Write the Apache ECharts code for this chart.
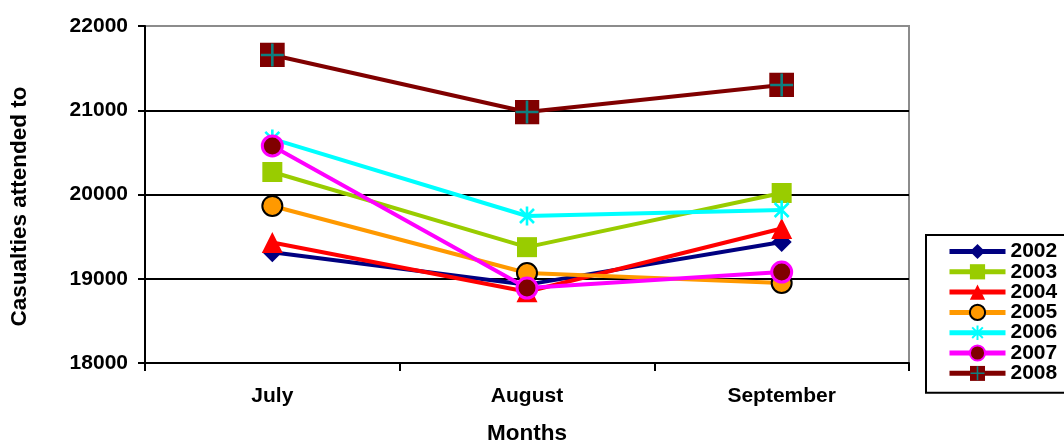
<!DOCTYPE html>
<html>
<head>
<meta charset="utf-8">
<script src="https://cdn.jsdelivr.net/npm/echarts@6/dist/echarts.min.js"></script>
<style>
  html, body { margin: 0; padding: 0; background: #fff; }
  #chart { width: 1064px; height: 442px; }
</style>
</head>
<body>
<div id="chart"></div>
<script>
// Monthly casualties attended to, by year
const months = ['July', 'August', 'September'];
const years = ['2002', '2003', '2004', '2005', '2006', '2007', '2008'];
const v2002 = [19315, 18930, 19436];
const v2003 = [20267, 19375, 20018];
const v2004 = [19430, 18845, 19596];
const v2005 = [19864, 19068, 18950];
const v2006 = [20660, 19745, 19816];
const v2007 = [20576, 18890, 19080];
const v2008 = [21656, 20979, 21300];
const yTicks = [18000, 19000, 20000, 21000, 22000];

const svgSymbol = svg => 'image://data:image/svg+xml;charset=utf-8,' + encodeURIComponent(svg);

// six-armed asterisk marker
const asterisk = svgSymbol(
  "<svg xmlns='http://www.w3.org/2000/svg' width='20' height='20' viewBox='0 0 20 20'>" +
  "<path d='M10 0.5V19.5M3 3L17 17M3 17L17 3' stroke='#00FFFF' stroke-width='2.6' fill='none'/></svg>");
// maroon square with a teal cross
const crossSquare = svgSymbol(
  "<svg xmlns='http://www.w3.org/2000/svg' width='25' height='25' viewBox='0 0 25 25'>" +
  "<rect width='25' height='25' fill='#800000'/>" +
  "<path d='M12.5 1V24M1 12.5H24' stroke='#0E7F7F' stroke-width='2.6' fill='none'/></svg>");

const font = 'Liberation Sans, Arial, sans-serif';

function line(name, data, color, symbol, size, itemStyle) {
  return {
    name, type: 'line', data,
    symbol, symbolSize: size,
    showAllSymbol: true,
    lineStyle: { color, width: 4 },
    itemStyle: Object.assign({ color, opacity: 1 }, itemStyle || {}),
    emphasis: { disabled: true },
    animation: false
  };
}

const series = [
  line(years[0], v2002, '#000080', 'diamond', 20),
  line(years[1], v2003, '#99CC00', 'rect', 20),
  line(years[2], v2004, '#FF0000', 'triangle', 21),
  line(years[3], v2005, '#FF9900', 'circle', 20, { borderColor: '#000', borderWidth: 2 }),
  line(years[4], v2006, '#00FFFF', asterisk, 20),
  line(years[5], v2007, '#FF00FF', 'circle', 20, { color: '#800000', borderColor: '#FF00FF', borderWidth: 3 }),
  line(years[6], v2008, '#800000', crossSquare, 25)
];

const chart = echarts.init(document.getElementById('chart'), null, { renderer: 'canvas' });
chart.setOption({
  animation: false,
  backgroundColor: '#fff',
  grid: {
    left: 145, right: 155, top: 26, bottom: 79,
    outerBoundsMode: 'none',
    containLabel: false,
    show: true, borderColor: '#8c8c8c', borderWidth: 2, backgroundColor: 'transparent'
  },
  legend: {
    orient: 'vertical',
    left: 926, top: 235,
    padding: [6, 20, 9, 21],
    itemWidth: 56, itemHeight: 19, itemGap: -0.7,
    borderColor: '#000', borderWidth: 2,
    lineStyle: { width: 5 },
    textStyle: { fontFamily: font, fontWeight: 'bold', fontSize: 21, color: '#000' },
    data: years
  },
  xAxis: {
    type: 'category',
    data: months,
    boundaryGap: true,
    name: 'Months',
    nameLocation: 'middle',
    nameGap: 59,
    nameTextStyle: { fontFamily: font, fontWeight: 'bold', fontSize: 22.5, color: '#000' },
    axisLine: { lineStyle: { color: '#000', width: 2 } },
    axisTick: { show: true, length: 8, lineStyle: { color: '#000', width: 2 } },
    axisLabel: { fontFamily: font, fontWeight: 'bold', fontSize: 21, color: '#000', margin: 23 },
    splitLine: { show: false }
  },
  yAxis: {
    type: 'value',
    min: yTicks[0], max: yTicks[yTicks.length - 1], interval: 1000,
    name: 'Casualties attended to',
    nameLocation: 'middle',
    nameGap: 114,
    nameRotate: 90,
    nameTextStyle: { fontFamily: font, fontWeight: 'bold', fontSize: 22.5, color: '#000', padding: [0, 24, 0, 0] },
    axisLine: { show: true, lineStyle: { color: '#000', width: 2 } },
    axisTick: { show: true, length: 7, lineStyle: { color: '#000', width: 2 } },
    axisLabel: {
      fontFamily: font, fontWeight: 'bold', fontSize: 21, color: '#000', margin: 17,
      formatter: v => String(v)
    },
    splitLine: { show: true, lineStyle: { color: ['#000', '#000', '#000', '#000', '#8c8c8c'], width: 2 } }
  },
  series
});
</script>
</body>
</html>
